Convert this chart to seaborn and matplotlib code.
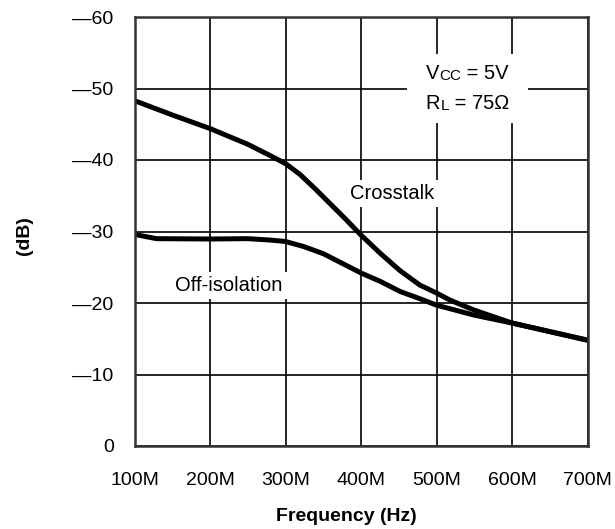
import matplotlib
matplotlib.use("Agg")
import matplotlib.pyplot as plt
import seaborn as sns
import pandas as pd
from matplotlib.patches import Rectangle

# ---- data (frequency in MHz, level in dB) ----
freq_crosstalk = [100, 150, 200, 250, 280, 300, 319, 339, 359, 379, 400, 426, 452, 478, 500, 518, 550, 600, 650, 700]
crosstalk_db = [-48.3, -46.3, -44.4, -42.2, -40.6, -39.5, -38.0, -36.0, -33.9, -31.8, -29.5, -26.9, -24.5, -22.5, -21.4, -20.4, -19.0, -17.2, -16.0, -14.8]

freq_off = [100, 129, 200, 250, 280, 300, 324, 350, 376, 400, 426, 452, 478, 500, 550, 600, 650, 700]
off_isolation_db = [-29.6, -29.0, -28.95, -29.0, -28.8, -28.6, -27.9, -26.9, -25.5, -24.2, -23.0, -21.6, -20.6, -19.7, -18.3, -17.2, -16.0, -14.8]

x_ticks = [100, 200, 300, 400, 500, 600, 700]
x_tick_labels = ["100M", "200M", "300M", "400M", "500M", "600M", "700M"]
y_ticks = [0, -10, -20, -30, -40, -50, -60]
y_tick_labels = ["0", "\u201410", "\u201420", "\u201430", "\u201440", "\u201450", "\u201460"]

sns.set_style("white")
plt.rcParams["font.family"] = ["Liberation Sans", "DejaVu Sans"]
plt.rcParams["text.color"] = "black"
plt.rcParams["axes.labelcolor"] = "black"

df_c = pd.DataFrame({"f": freq_crosstalk, "db": crosstalk_db})
df_o = pd.DataFrame({"f": freq_off, "db": off_isolation_db})

fig = plt.figure(figsize=(6.15, 5.29), dpi=100)
ax = fig.add_axes([134.5 / 615, 1 - 446 / 529, 453 / 615, 429 / 529])

sns.lineplot(data=df_c, x="f", y="db", ax=ax, color="black", lw=3.6, zorder=3)
sns.lineplot(data=df_o, x="f", y="db", ax=ax, color="black", lw=3.6, zorder=3)

ax.set_xlim(100, 700)
ax.set_ylim(0, -60)
ax.set_xticks(x_ticks)
ax.set_xticklabels(x_tick_labels)
ax.set_yticks(y_ticks)
ax.set_yticklabels(y_tick_labels)
ax.tick_params(axis="both", length=0, labelsize=14, colors="black")
ax.tick_params(axis="x", pad=19)
ax.tick_params(axis="y", pad=15)

ax.grid(True, color="black", lw=1.2, zorder=1)
for s in ax.spines.values():
    s.set_visible(True)
    s.set_color("#333333")
    s.set_linewidth(1.8)
    s.set_zorder(4)

ax.set_xlabel("Frequency (Hz)", fontsize=14, fontweight="bold")
ax.xaxis.set_label_coords(0.468, -0.145)
ax.set_ylabel("(dB)", fontsize=14, fontweight="bold")
ax.yaxis.set_label_coords(-0.224, 0.49)

box = dict(facecolor="white", edgecolor="none", pad=3)
ax.text(0.475, 0.576, "Crosstalk", transform=ax.transAxes, fontsize=14.5,
        ha="left", va="baseline", bbox=box, zorder=5)
ax.text(0.09, 0.3613, "Off-isolation", transform=ax.transAxes, fontsize=14.5,
        ha="left", va="baseline", bbox=box, zorder=5)

# Vcc / RL box
ax.add_patch(Rectangle((0.601, 0.754), 0.268, 0.16, transform=ax.transAxes,
                       facecolor="white", edgecolor="none", zorder=5))
t1 = ax.text(0.643, 0.855, "V", transform=ax.transAxes, fontsize=14.5,
             ha="left", va="baseline", zorder=6)
t1b = ax.annotate("CC", xy=(1, 0), xycoords=t1, fontsize=11, va="bottom",
                  ha="left", zorder=6, annotation_clip=False)
ax.annotate(" = 5V", xy=(1, 0), xycoords=t1b, fontsize=14.5, va="bottom",
            ha="left", zorder=6, annotation_clip=False)
t2 = ax.text(0.643, 0.7855, "R", transform=ax.transAxes, fontsize=14.5,
             ha="left", va="baseline", zorder=6)
t2b = ax.annotate("L", xy=(1, 0), xycoords=t2, fontsize=11, va="bottom",
                  ha="left", zorder=6, annotation_clip=False)
ax.annotate(" = 75\u03a9", xy=(1, 0), xycoords=t2b, fontsize=14.5, va="bottom",
            ha="left", zorder=6, annotation_clip=False)

fig.savefig("out.png", dpi=100)
